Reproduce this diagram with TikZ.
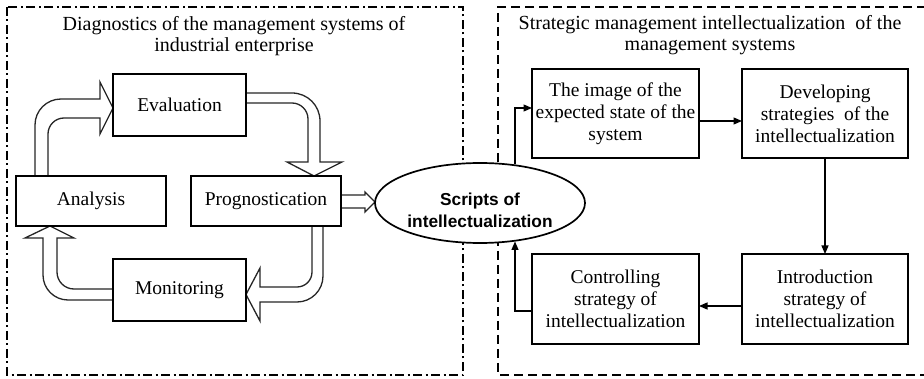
\documentclass[tikz,border=0pt]{standalone}
\usepackage{fontspec}
\setmainfont{Liberation Serif}
\newfontfamily\ellfont{Liberation Sans}
\usetikzlibrary{shapes.geometric,arrows.meta,calc}
\begin{document}
\begin{tikzpicture}[x=1pt,y=-1pt,
  box/.style={draw=black,line width=1.2pt,fill=white,inner sep=0pt,outer sep=0pt,
    align=center,font=\fontsize{19.5}{22}\selectfont},
  ttl/.style={inner sep=0pt,align=center,font=\fontsize{20}{20.8}\selectfont},
  frameL/.style={draw=black,line width=1.9pt,dash pattern=on 9pt off 3.5pt on 2pt off 3.5pt},
  frameR/.style={draw=black,line width=1.9pt,dash pattern=on 9pt off 5pt},
  blockarrow/.style={draw=black!85,fill=white,line width=1.3pt,line join=miter},
  thinarrow/.style={draw=black,line width=1.2pt,-{Triangle[length=8.5pt,width=7pt]}},
  ellnode/.style={ellipse,draw=black,line width=1.7pt,fill=white,minimum width=210pt,minimum height=80pt,inner sep=0pt},
  elltext/.style={inner sep=0pt,align=center,font=\ellfont\bfseries\fontsize{17.3}{22}\selectfont}
]
\useasboundingbox (0,0) rectangle (924,379);

% frames
\draw[frameL] (7,7) rectangle (463,375);
\draw[frameR] (926,7) -- (498,7) -- (498,375) -- (926,375);

% titles
\node[ttl] (t1) at (234,36) {Diagnostics of the management systems of\\industrial enterprise};
\node[ttl] (t2) at (710,35) {Strategic management intellectualization\ \ of the\\management systems};

% block arrows (left cycle)
\draw[blockarrow] (35,176) -- (35,125) .. controls (35,110.6) and (46.6,99) .. (61,99)
  -- (100,99) -- (100,82) -- (113,108) -- (100,134) -- (100,118) -- (64,118)
  .. controls (55.2,118) and (48,125.2) .. (48,134) -- (48,176) -- cycle;
\draw[blockarrow] (246,93) -- (292,93) .. controls (307.5,93) and (320,105.5) .. (320,121)
  -- (320,162) -- (342,162) -- (314,176) -- (287,162) -- (308,162) -- (308,119)
  .. controls (308,110.2) and (300.8,103) .. (292,103) -- (246,103) -- cycle;
\draw[blockarrow] (312,226) -- (312,272) .. controls (312,280.3) and (305.3,287) .. (297,287)
  -- (260,287) -- (260,268) -- (246,294.5) -- (260,321) -- (260,302) -- (297,302)
  .. controls (311.4,302) and (323,290.4) .. (323,276) -- (323,226) -- cycle;
\draw[blockarrow] (113,289) -- (74,289) .. controls (64.6,289) and (57,281.4) .. (57,272)
  -- (57,238) -- (74,238) -- (50,226) -- (25,238) -- (43,238) -- (43,275)
  .. controls (43,288.8) and (54.2,300) .. (68,300) -- (113,300) -- cycle;
\draw[blockarrow] (341,195) -- (365,195) -- (365,192) -- (375,202) -- (365,212)
  -- (365,208) -- (341,208) -- cycle;

% left boxes
\node[box,minimum width=133pt,minimum height=62pt] (eval) at (179.5,105) {Evaluation};
\node[box,minimum width=150pt,minimum height=50pt] (ana) at (91,201) {Analysis};
\node[box,minimum width=150pt,minimum height=50pt] (prog) at (266,201) {Prognostication};
\node[box,minimum width=133pt,minimum height=62pt] (mon) at (179.5,290) {Monitoring};

% ellipse
\node[ellnode] (ell) at (480,203) {};
\node[elltext] (elltxt) at (480,210) {Scripts of\\intellectualization};

% right boxes
\node[box,minimum width=167pt,minimum height=89pt] (img) at (615.5,113.5) {The image of the\\expected state of the\\system};
\node[box,minimum width=166pt,minimum height=89pt] (dev) at (825,113.5) {Developing\\strategies\ \ of the\\intellectualization};
\node[box,minimum width=167pt,minimum height=90pt] (ctl) at (615.5,299) {Controlling\\strategy of\\intellectualization};
\node[box,minimum width=166pt,minimum height=90pt] (intro) at (825,299) {Introduction\\strategy of\\intellectualization};

% connectors
\coordinate (eT) at ($(ell.center)+(35,-38.5)$);
\coordinate (eB) at ($(ell.center)+(35,38.5)$);
\draw[thinarrow] (img.east |- 0,121) -- (dev.west |- 0,121);
\draw[thinarrow] (dev.south) -- (intro.north);
\draw[thinarrow] (intro.west |- 0,306) -- (ctl.east |- 0,306);
\draw[thinarrow] (ctl.west |- 0,311) -| (eB);
\draw[thinarrow] (eT) |- (img.west |- 0,108);
\end{tikzpicture}
\end{document}
